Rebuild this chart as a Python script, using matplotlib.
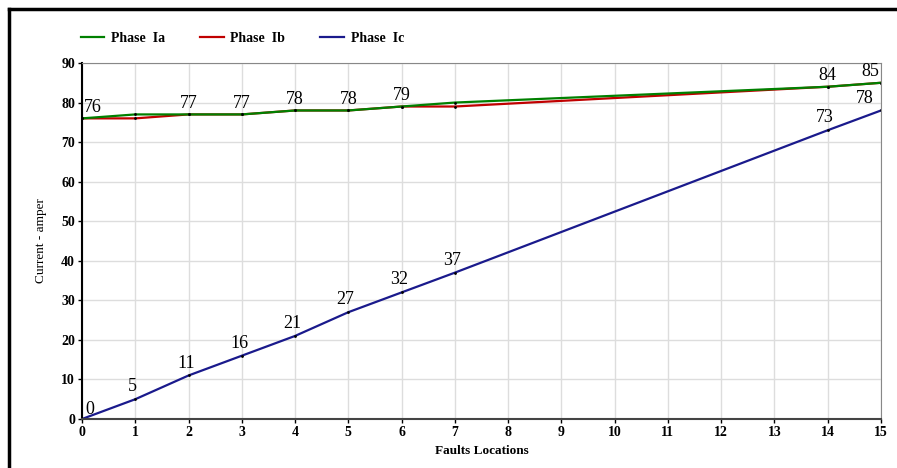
import matplotlib.pyplot as plt
from matplotlib.lines import Line2D

# data
x = [0, 1, 2, 3, 4, 5, 6, 7, 14, 15]
phase_ia = [76, 77, 77, 77, 78, 78, 79, 80, 84, 85]
phase_ib = [76, 76, 77, 77, 78, 78, 79, 79, 84, 85]
phase_ic = [0, 5, 11, 16, 21, 27, 32, 37, 73, 78]

# labels shown above the top curves (x=1 label is blanked in the original)
top_label_x = [0, 2, 3, 4, 5, 6, 14, 15]
top_label_v = [76, 77, 77, 78, 78, 79, 84, 85]

fig = plt.figure(figsize=(8.97, 4.68), dpi=100)
ax = fig.add_axes([82 / 897, 1 - 419 / 468, (881 - 82) / 897, (419 - 63) / 468])

ax.plot(x, phase_ib, color='#c00000', lw=1.6, marker='.', ms=2, mfc='black', mec='black')
ax.plot(x, phase_ia, color='#008000', lw=1.6, marker='.', ms=2, mfc='black', mec='black')
ax.plot(x, phase_ic, color='#1a1a8c', lw=1.6, marker='.', ms=2, mfc='black', mec='black')

serif = 'Liberation Serif'
for xi, v in zip(top_label_x, top_label_v):
    dx = 0.2 if xi == 0 else (-0.2 if xi == 15 else 0)
    ax.text(xi + dx, v + 0.6, str(v), ha='center', va='bottom', fontsize=13, family=serif)

for xi, v in zip(x, phase_ic):
    if xi == 0:
        ax.text(0.15, 0.2, '0', ha='center', va='bottom', fontsize=13, family=serif)
    else:
        dx = -0.3 if xi == 15 else -0.05
        ax.text(xi + dx, v + 1.0, str(v), ha='center', va='bottom', fontsize=13, family=serif)

ax.set_xlim(0, 15)
ax.set_ylim(0, 90)
ax.set_xticks(range(16))
ax.set_yticks(range(0, 91, 10))
ax.grid(True, color='#dddddd', lw=1)
ax.set_axisbelow(True)
ax.tick_params(length=3, width=1, pad=2, labelsize=10)
for lab in ax.get_xticklabels() + ax.get_yticklabels():
    lab.set_family(serif)
    lab.set_fontweight('bold')

ax.spines['left'].set_color('black')
ax.spines['left'].set_linewidth(1.5)
ax.spines['bottom'].set_color('#444444')
ax.spines['bottom'].set_linewidth(1.5)
ax.spines['top'].set_color('#888888')
ax.spines['right'].set_color('#888888')

ax.set_xlabel('Faults Locations', family=serif, fontweight='bold', fontsize=9.5, labelpad=4)
ax.set_ylabel('Current - amper', family=serif, fontsize=9.5, labelpad=10)

handles = [Line2D([], [], color='#008000', lw=1.6),
           Line2D([], [], color='#c00000', lw=1.6),
           Line2D([], [], color='#1a1a8c', lw=1.6)]
fig.legend(handles, ['Phase  Ia', 'Phase  Ib', 'Phase  Ic'], loc='center left',
           bbox_to_anchor=(68 / 897, 1 - 38 / 468), ncol=3, frameon=False,
           prop={'family': serif, 'weight': 'bold', 'size': 10},
           handlelength=1.7, columnspacing=2.5, handletextpad=0.5)

# outer frame: top and left edges only
fig.add_artist(Line2D([9 / 897, 9 / 897], [0, 1 - 9 / 468], color='black', lw=2.5,
                      transform=fig.transFigure))
fig.add_artist(Line2D([9 / 897, 1], [1 - 9 / 468, 1 - 9 / 468], color='black', lw=2.5,
                      transform=fig.transFigure))

fig.savefig('out.png', dpi=100)
